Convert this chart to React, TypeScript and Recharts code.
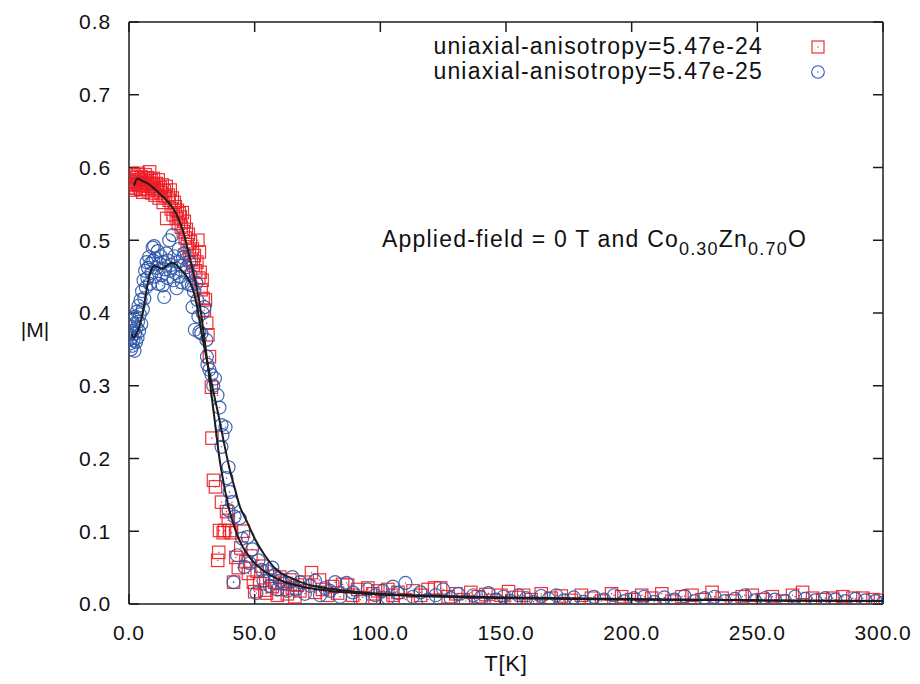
import { ScatterChart, Scatter, XAxis, YAxis } from 'recharts';

const W = 920;
const H = 684;
const RED = '#ec1c24';
const BLUE = '#2f56aa';
const INK = '#1c1c1c';
const FONT = '"Liberation Sans", Arial, Helvetica, sans-serif';

const xTicks = [0, 50, 100, 150, 200, 250, 300];
const yTicks = [0, 0.1, 0.2, 0.3, 0.4, 0.5, 0.6, 0.7, 0.8];

const legendNames = ['uniaxial-anisotropy=5.47e-24', 'uniaxial-anisotropy=5.47e-25'];

// [T, |M|], anisotropy 5.47e-24 (squares)
const strongK: [number, number][] = [
  [0.2, 0.58], [0.5, 0.572], [0.8, 0.588], [1.0, 0.577], [1.3, 0.583], [1.6, 0.569], [1.9, 0.59],
  [2.2, 0.576], [2.5, 0.581], [2.8, 0.572], [3.1, 0.586], [3.4, 0.578], [3.7, 0.592], [4.0, 0.575],
  [4.3, 0.583], [4.6, 0.57], [4.9, 0.587], [5.2, 0.579], [5.5, 0.566], [5.8, 0.584], [6.1, 0.575],
  [6.4, 0.59], [6.7, 0.571], [7.0, 0.58], [7.3, 0.586], [7.6, 0.568], [7.9, 0.578], [8.2, 0.594],
  [8.5, 0.574], [8.8, 0.582], [9.1, 0.565], [9.4, 0.577], [9.7, 0.585], [10.0, 0.571],
  [10.4, 0.562], [10.8, 0.578], [11.2, 0.569], [11.6, 0.583], [12.0, 0.558], [12.4, 0.572],
  [12.8, 0.565], [13.2, 0.576], [13.6, 0.552], [14.0, 0.568], [14.4, 0.56], [14.8, 0.574],
  [15.0, 0.53], [15.6, 0.562], [16.0, 0.555], [16.4, 0.569], [16.8, 0.543], [17.2, 0.558],
  [17.6, 0.535], [18.0, 0.552], [18.4, 0.546], [18.8, 0.53], [19.2, 0.541], [19.6, 0.523],
  [20.0, 0.537], [20.4, 0.532], [20.8, 0.518], [21.2, 0.538], [21.6, 0.512], [22.0, 0.526],
  [22.4, 0.503], [22.8, 0.515], [23.2, 0.494], [23.6, 0.508], [24.0, 0.486], [24.4, 0.498],
  [24.8, 0.474], [25.2, 0.488], [25.6, 0.466], [26.0, 0.479], [26.5, 0.458], [27.0, 0.47],
  [27.4, 0.5], [27.8, 0.448], [28.0, 0.484], [28.3, 0.456], [28.7, 0.432], [29.1, 0.445],
  [29.5, 0.42], [30.0, 0.404], [30.4, 0.418], [30.9, 0.386], [31.4, 0.37], [32.0, 0.34],
  [32.8, 0.298], [33.0, 0.228], [33.6, 0.17], [34.4, 0.161], [35.3, 0.06], [35.7, 0.071],
  [36.0, 0.101], [36.8, 0.14], [37.5, 0.098], [38.0, 0.101], [38.8, 0.127], [39.5, 0.115],
  [40.0, 0.101], [40.8, 0.098], [41.6, 0.03], [42.5, 0.064], [43.5, 0.05], [44.5, 0.077],
  [45.5, 0.1], [46.5, 0.058], [47.5, 0.042], [48.5, 0.066], [49.5, 0.03], [50.0, 0.017],
  [51, 0.045], [52, 0.028], [53, 0.052], [54, 0.019], [54.7, 0.015], [56, 0.038], [57, 0.024],
  [58, 0.03], [59, 0.012], [60, 0.037], [61, 0.02], [62, 0.028], [63, 0.014], [64, 0.033],
  [65, 0.022], [66, 0.01], [67, 0.026], [68, 0.018], [70, 0.03], [72.6, 0.043], [74, 0.016],
  [75.8, 0.033], [77, 0.02], [79, 0.012], [81, 0.024], [83, 0.015], [85, 0.027], [87, 0.026],
  [89, 0.012], [91, 0.02], [93, 0.009], [95, 0.022], [97, 0.014], [99, 0.018], [101, 0.008],
  [103, 0.02], [105, 0.012], [107, 0.016], [110, 0.006], [113, 0.018], [116, 0.012], [119, 0.02],
  [121.6, 0.022], [124, 0.022], [127, 0.01], [130, 0.014], [133, 0.006], [136, 0.016], [139, 0.01],
  [142, 0.013], [145, 0.005], [148, 0.012], [151, 0.017], [154, 0.009], [157, 0.012], [160, 0.006],
  [164, 0.014], [168, 0.008], [172, 0.011], [176, 0.005], [180, 0.012], [184, 0.008], [188, 0.004],
  [192, 0.014], [196, 0.01], [200, 0.006], [204, 0.012], [208, 0.008], [212, 0.014], [216, 0.004],
  [220, 0.01], [224, 0.012], [228, 0.006], [232, 0.016], [236, 0.008], [240, 0.004], [244, 0.01],
  [248, 0.012], [252, 0.006], [256, 0.01], [260, 0.004], [264, 0.012], [268, 0.016], [272, 0.008],
  [276, 0.006], [280, 0.008], [284, 0.01], [288, 0.008], [292, 0.008], [296, 0.006], [299, 0.005],
];

// anisotropy 5.47e-25 (circles)
const weakK: [number, number][] = [
  [0.2, 0.37], [0.4, 0.358], [0.6, 0.382], [0.8, 0.35], [1.0, 0.366], [1.2, 0.39], [1.4, 0.355],
  [1.6, 0.375], [1.8, 0.362], [2.0, 0.385], [2.2, 0.348], [2.4, 0.372], [2.6, 0.395], [2.8, 0.36],
  [3.0, 0.38], [3.2, 0.402], [3.4, 0.366], [3.6, 0.388], [3.8, 0.41], [4.0, 0.375], [4.3, 0.398],
  [4.6, 0.418], [4.9, 0.385], [5.2, 0.43], [5.5, 0.405], [5.8, 0.445], [6.1, 0.42], [6.4, 0.458],
  [6.7, 0.435], [7.0, 0.47], [7.3, 0.448], [7.6, 0.462], [8.0, 0.477], [8.3, 0.44], [8.6, 0.468],
  [9.0, 0.455], [9.4, 0.49], [9.7, 0.472], [10.0, 0.492], [10.3, 0.45], [10.6, 0.475], [11.0, 0.462],
  [11.4, 0.485], [11.8, 0.44], [12.2, 0.468], [12.6, 0.478], [13.0, 0.452], [13.4, 0.438],
  [13.8, 0.47], [14.0, 0.422], [14.4, 0.46], [14.8, 0.482], [15.2, 0.448], [15.6, 0.472],
  [16.0, 0.5], [16.4, 0.458], [16.8, 0.466], [17.3, 0.507], [17.7, 0.445], [18.1, 0.478],
  [18.5, 0.455], [19.0, 0.434], [19.4, 0.47], [19.8, 0.488], [20.2, 0.45], [20.6, 0.465],
  [21.0, 0.442], [21.5, 0.476], [22.0, 0.482], [22.5, 0.456], [23.0, 0.463], [23.5, 0.44],
  [24.0, 0.47], [24.5, 0.452], [25.0, 0.438], [25.3, 0.408], [25.8, 0.43], [26.2, 0.377],
  [26.8, 0.441], [27.2, 0.418], [27.6, 0.395], [28.0, 0.374], [28.8, 0.372], [29.3, 0.4],
  [30.0, 0.408], [30.8, 0.363], [31.0, 0.34], [31.2, 0.329], [32.0, 0.322], [32.8, 0.315],
  [33.5, 0.3], [34.2, 0.31], [35.2, 0.287], [36.0, 0.27], [36.8, 0.246], [37.2, 0.232],
  [36.8, 0.216], [38.4, 0.243], [39.6, 0.188], [38.8, 0.173], [40.0, 0.154], [39.6, 0.129],
  [41.0, 0.14], [42, 0.12], [44, 0.118], [43, 0.067], [45, 0.09], [46, 0.051], [47.2, 0.092],
  [48, 0.056], [49, 0.075], [41.6, 0.03], [50.7, 0.015], [51.5, 0.06], [52.7, 0.047], [53.5, 0.032],
  [55, 0.045], [56, 0.025], [57, 0.05], [58, 0.04], [59, 0.02], [60, 0.032], [61.5, 0.028],
  [63, 0.018], [65, 0.037], [66.5, 0.02], [68, 0.03], [70, 0.014], [72, 0.025], [74, 0.032],
  [76, 0.012], [78, 0.022], [80, 0.018], [82, 0.03], [84, 0.01], [86.6, 0.029], [89, 0.016],
  [92, 0.006], [95, 0.02], [98, 0.012], [101, 0.018], [103, 0.008], [105, 0.024], [107, 0.015],
  [110, 0.029], [113, 0.01], [116, 0.016], [119, 0.006], [122, 0.012], [125, 0.02], [128, 0.008],
  [131, 0.014], [134, 0.004], [137, 0.012], [140, 0.009], [143, 0.015], [146, 0.006], [149, 0.01],
  [152, 0.004], [155, 0.012], [158, 0.008], [161, 0.003], [164, 0.011], [167, 0.007], [170, 0.012],
  [173, 0.005], [177, 0.009], [181, 0.003], [185, 0.01], [189, 0.006], [193, 0.012], [197, 0.004],
  [201, 0.008], [205, 0.01], [209, 0.003], [213, 0.009], [217, 0.006], [221, 0.011], [225, 0.004],
  [229, 0.008], [233, 0.01], [237, 0.004], [241, 0.007], [245, 0.012], [249, 0.005], [253, 0.008],
  [257, 0.006], [261, 0.004], [265, 0.01], [269, 0.007], [273, 0.005], [277, 0.008], [281, 0.006],
  [285, 0.004], [289, 0.007], [293, 0.005], [297, 0.004], [300, 0.002],
];

// smoothed black curves through each set
const strongFit: [number, number][] = [
  [2, 0.575], [3.3, 0.585], [5, 0.582], [7.5, 0.578], [10, 0.571], [12.5, 0.563], [15, 0.555],
  [17.5, 0.544], [20, 0.527], [22, 0.507], [24, 0.478], [26, 0.45], [28, 0.415], [30, 0.365],
  [32, 0.31], [34, 0.255], [36, 0.2], [38, 0.16], [40, 0.128], [42, 0.105], [45, 0.08], [48, 0.064],
  [53, 0.047], [60, 0.033], [70, 0.023], [80, 0.018], [90, 0.015], [100, 0.013], [125, 0.01],
  [150, 0.008], [200, 0.006], [250, 0.005], [300, 0.004],
];

const weakFit: [number, number][] = [
  [1, 0.372], [1.8, 0.366], [3, 0.372], [4, 0.38], [5, 0.393], [6, 0.41], [7, 0.432], [8, 0.45],
  [9, 0.46], [10, 0.465], [11.5, 0.463], [13, 0.461], [15, 0.465], [17, 0.469], [19, 0.466],
  [21, 0.458], [23, 0.45], [25, 0.437], [27, 0.41], [29, 0.37], [30, 0.352], [32, 0.318],
  [34, 0.285], [36, 0.253], [38, 0.218], [40, 0.186], [42, 0.16], [44, 0.135], [46.7, 0.115],
  [50, 0.09], [54, 0.067], [58.7, 0.047], [65, 0.035], [70, 0.028], [80, 0.021], [90, 0.017],
  [100, 0.014], [125, 0.011], [150, 0.009], [200, 0.007], [250, 0.005], [300, 0.004],
];

const rows = (list: [number, number][]) => list.map(([t, m]) => ({ t, m }));

function SquareMark(props: any) {
  const { cx, cy } = props;
  if (cx == null || cy == null) return <g />;
  return (
    <g>
      <rect x={cx - 6.2} y={cy - 6.2} width={12.4} height={12.4} fill="none" stroke={RED} strokeWidth={1.2} strokeOpacity={0.9} />
      <rect x={cx - 0.6} y={cy - 0.6} width={1.2} height={1.2} fill={RED} />
    </g>
  );
}

function CircleMark(props: any) {
  const { cx, cy } = props;
  if (cx == null || cy == null) return <g />;
  return (
    <g>
      <circle cx={cx} cy={cy} r={6.5} fill="none" stroke={BLUE} strokeWidth={1.2} strokeOpacity={0.9} />
      <circle cx={cx} cy={cy} r={0.7} fill={BLUE} />
    </g>
  );
}

const noMark = () => <g />;
const blank = () => '';

const tickFont = { fill: '#111', fontSize: 21, fontFamily: FONT, letterSpacing: 0.9 };
const frame = { stroke: INK, strokeWidth: 1.5 };

const textBase: React.CSSProperties = {
  position: 'absolute',
  fontFamily: FONT,
  color: '#111',
  lineHeight: 1,
  whiteSpace: 'nowrap',
};

export default function App() {
  return (
    <div style={{ position: 'relative', width: W, height: H, background: '#fff' }}>
      <style>{'body{margin:0;}'}</style>
      <ScatterChart width={W} height={H} margin={{ top: 0, right: 0, bottom: 0, left: 0 }}>
        <XAxis
          xAxisId="b"
          dataKey="t"
          type="number"
          domain={[0, 300]}
          ticks={xTicks}
          interval={0}
          height={80}
          allowDataOverflow
          tickFormatter={(v: number) => v.toFixed(1)}
          tickSize={-10}
          tickMargin={31}
          tick={tickFont}
          axisLine={frame}
          tickLine={frame}
        />
        <XAxis
          xAxisId="top"
          orientation="top"
          dataKey="t"
          type="number"
          domain={[0, 300]}
          ticks={xTicks}
          interval={0}
          height={22}
          allowDataOverflow
          tickFormatter={blank}
          tickSize={-10}
          axisLine={frame}
          tickLine={frame}
        />
        <YAxis
          yAxisId="l"
          dataKey="m"
          type="number"
          domain={[0, 0.8]}
          ticks={yTicks}
          interval={0}
          width={129}
          allowDataOverflow
          tickFormatter={(v: number) => v.toFixed(1)}
          tickSize={-10}
          tickMargin={28}
          tick={tickFont}
          axisLine={frame}
          tickLine={frame}
        />
        <YAxis
          yAxisId="r"
          orientation="right"
          dataKey="m"
          type="number"
          domain={[0, 0.8]}
          ticks={yTicks}
          interval={0}
          width={37}
          allowDataOverflow
          tickFormatter={blank}
          tickSize={-10}
          axisLine={frame}
          tickLine={frame}
        />
        <Scatter xAxisId="b" yAxisId="l" data={rows(strongK)} shape={SquareMark} isAnimationActive={false} />
        <Scatter xAxisId="b" yAxisId="l" data={rows(weakK)} shape={CircleMark} isAnimationActive={false} />
        <Scatter
          xAxisId="b"
          yAxisId="l"
          data={rows(strongFit)}
          shape={noMark}
          line={{ stroke: INK, strokeWidth: 2 }}
          lineJointType="monotoneX"
          isAnimationActive={false}
        />
        <Scatter
          xAxisId="b"
          yAxisId="l"
          data={rows(weakFit)}
          shape={noMark}
          line={{ stroke: INK, strokeWidth: 2 }}
          lineJointType="monotoneX"
          isAnimationActive={false}
        />
      </ScatterChart>

      {/* axis titles */}
      <div style={{ ...textBase, left: 0, width: 70, top: 319, fontSize: 21, textAlign: 'center' }}>|M|</div>
      <div style={{ ...textBase, left: 456, width: 100, top: 653, fontSize: 22, letterSpacing: 0.8, textAlign: 'center' }}>T[K]</div>

      {/* key */}
      {legendNames.map((name, i) => (
        <div
          key={name}
          style={{ ...textBase, right: W - 763, top: 35 + i * 25, fontSize: 23, letterSpacing: 1.2, textAlign: 'right' }}
        >
          {name}
        </div>
      ))}
      <svg style={{ position: 'absolute', left: 0, top: 0 }} width={W} height={100}>
        <rect x={812} y={41} width={12} height={12} fill="none" stroke={RED} strokeWidth={1.1} />
        <rect x={817.4} y={46.4} width={1.2} height={1.2} fill={RED} />
        <circle cx={818} cy={72} r={6.3} fill="none" stroke={BLUE} strokeWidth={1.1} />
        <circle cx={818} cy={72} r={0.7} fill={BLUE} />
      </svg>

      {/* annotation */}
      <div style={{ ...textBase, left: 382, top: 228, fontSize: 23, letterSpacing: 1.2 }}>
        Applied-field = 0 T and Co
        <sub style={{ fontSize: 18, verticalAlign: -8, lineHeight: 1 }}>0.30</sub>
        Zn
        <sub style={{ fontSize: 18, verticalAlign: -8, lineHeight: 1 }}>0.70</sub>
        O
      </div>
    </div>
  );
}
